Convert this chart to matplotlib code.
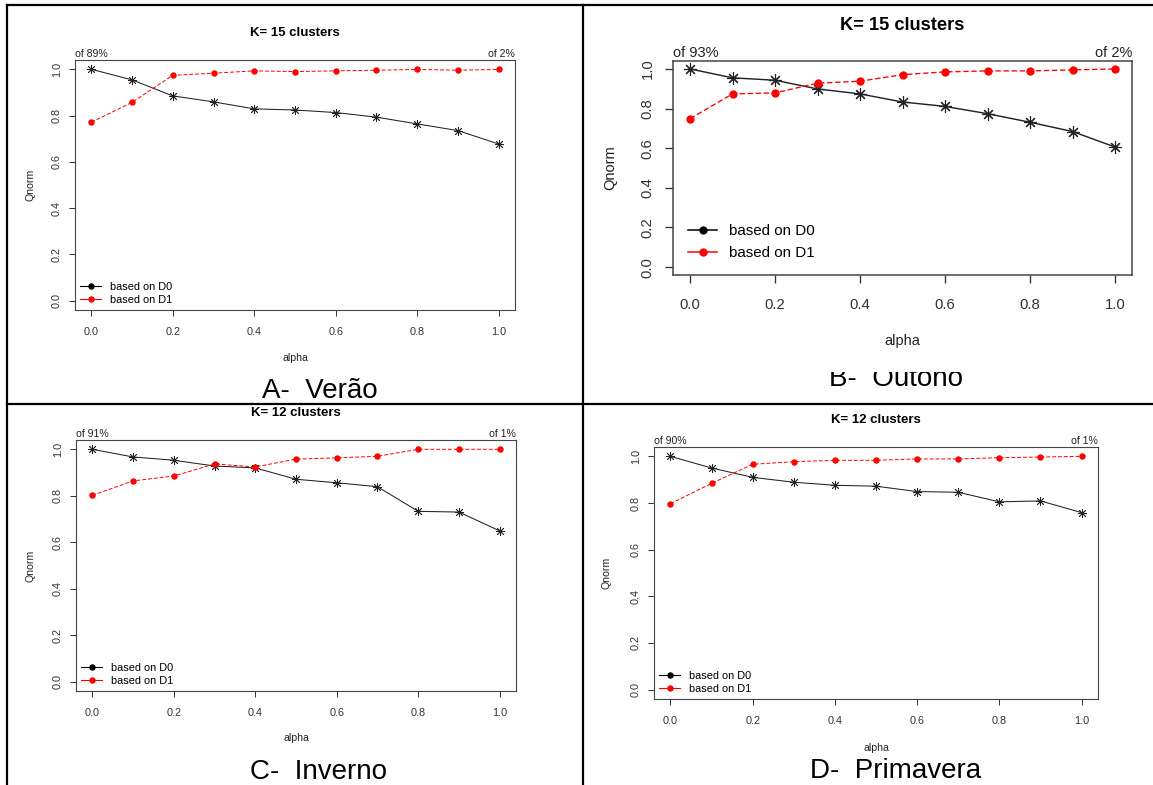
import matplotlib.pyplot as plt
from matplotlib.transforms import Bbox

plt.rcParams['font.family'] = ['Liberation Sans', 'DejaVu Sans']

W, H = 1153, 785

alpha = [0.0, 0.1, 0.2, 0.3, 0.4, 0.5, 0.6, 0.7, 0.8, 0.9, 1.0]

verao_d0 = [1.0, 0.954, 0.885, 0.859, 0.829, 0.824, 0.813, 0.793, 0.764, 0.735, 0.677]
verao_d1 = [0.771, 0.857, 0.974, 0.983, 0.993, 0.990, 0.993, 0.996, 0.999, 0.996, 0.999]
outono_d0 = [1.0, 0.955, 0.943, 0.899, 0.874, 0.833, 0.811, 0.774, 0.731, 0.684, 0.606]
outono_d1 = [0.749, 0.874, 0.879, 0.928, 0.938, 0.971, 0.985, 0.990, 0.990, 0.995, 1.0]
inverno_d0 = [1.0, 0.967, 0.953, 0.928, 0.920, 0.871, 0.856, 0.839, 0.733, 0.730, 0.649]
inverno_d1 = [0.802, 0.864, 0.885, 0.937, 0.924, 0.958, 0.963, 0.970, 1.0, 1.0, 1.0]
primavera_d0 = [1.0, 0.950, 0.910, 0.889, 0.876, 0.872, 0.849, 0.846, 0.805, 0.809, 0.759]
primavera_d1 = [0.797, 0.884, 0.966, 0.977, 0.983, 0.983, 0.989, 0.989, 0.994, 0.997, 1.0]

titles = ['K= 15 clusters', 'K= 15 clusters', 'K= 12 clusters', 'K= 12 clusters']
left_notes = ['of 89%', 'of 93%', 'of 91%', 'of 90%']
right_notes = ['of 2%', 'of 2%', 'of 1%', 'of 1%']
captions = ['A-  Verão', 'B-  Outono', 'C-  Inverno', 'D-  Primavera']
legend_labels = ['based on D0', 'based on D1']
ticks = [0.0, 0.2, 0.4, 0.6, 0.8, 1.0]

series = [(verao_d0, verao_d1), (outono_d0, outono_d1),
          (inverno_d0, inverno_d1), (primavera_d0, primavera_d1)]

# layout in pixels: plot box, title y, caption (centre x, baseline y), alpha y, Qnorm x, scale
layout = [
    dict(box=(75, 60, 515, 310), title_y=33, cap=(320, 398), alpha_y=358, qnorm_x=30, s=1.0),
    dict(box=(673, 61, 1132, 275), title_y=25, cap=(896, 386), alpha_y=341, qnorm_x=610, s=1.38),
    dict(box=(76, 440, 516, 691), title_y=413, cap=(318, 779), alpha_y=738, qnorm_x=30, s=1.0),
    dict(box=(654, 447, 1098, 699), title_y=420, cap=(896, 778), alpha_y=748, qnorm_x=607, s=1.0),
]

fig = plt.figure(figsize=(W / 100, H / 100), dpi=100)


def fx(x):
    return x / W


def fy(y):
    return 1 - y / H


# table borders
for xs, ys in [((7, W), (5, 5)), ((7, W), (404, 404)),
               ((7, 7), (5, H)), ((583, 583), (5, H))]:
    fig.add_artist(plt.Line2D([fx(v) for v in xs], [fy(v) for v in ys],
                              color='black', lw=1.6, transform=fig.transFigure))

for i, lay in enumerate(layout):
    d0, d1 = series[i]
    s = lay['s']
    x0, y0, x1, y1 = lay['box']
    ax = fig.add_axes([fx(x0), fy(y1), (x1 - x0) / W, (y1 - y0) / H])

    ax.plot(alpha, d0, color='#222222', lw=0.75 * s, marker=(8, 2, 0),
            ms=6.5 * s, mew=0.6 * s, label=legend_labels[0])
    ax.plot(alpha, d1, color='red', lw=0.7 * s, ls=(0, (4, 2)), marker='o',
            ms=3.6 * s, label=legend_labels[1])

    ax.set_xlim(-0.04, 1.04)
    ax.set_ylim(-0.04, 1.04)
    ax.set_xticks(ticks)
    ax.set_yticks(ticks)
    ax.set_xticklabels(['%.1f' % t for t in ticks])
    ax.set_yticklabels(['%.1f' % t for t in ticks])
    ax.tick_params(axis='both', labelsize=7.8 * s, colors='#333333',
                   length=4 * s, width=0.7 * s)
    ax.tick_params(axis='x', pad=8 * s)
    ax.tick_params(axis='y', labelrotation=90, pad=5.5 * s)
    plt.setp(ax.get_yticklabels(), va='center')
    for sp in ax.spines.values():
        sp.set_color('#444444')
        sp.set_linewidth(0.8 * s)

    # legend handles show dots for both series
    handles = [plt.Line2D([], [], color='black', lw=0.8 * s, marker='o', ms=3.6 * s),
               plt.Line2D([], [], color='red', lw=0.8 * s, marker='o', ms=3.6 * s)]
    ax.legend(handles, legend_labels, loc='lower left', frameon=False,
              fontsize=7.9 * s, handlelength=1.9, handletextpad=0.8,
              labelspacing=0.25 if s == 1 else 0.5, borderaxespad=0.2 if s == 1 else 0.7,
              borderpad=0.3)

    ax.text(0, 1.005, left_notes[i], transform=ax.transAxes, ha='left', va='bottom',
            fontsize=7.6 * s, color='#222222')
    ax.text(1, 1.005, right_notes[i], transform=ax.transAxes, ha='right', va='bottom',
            fontsize=7.6 * s, color='#222222')

    cx = (x0 + x1) / 2
    fig.text(fx(cx), fy(lay['title_y']), titles[i], ha='center', va='center',
             fontsize=9.5 * s, fontweight='bold')
    fig.text(fx(cx), fy(lay['alpha_y']), 'alpha', ha='center', va='center',
             fontsize=7.6 * s, color='#222222')
    fig.text(fx(lay['qnorm_x']), fy((y0 + y1) / 2), 'Qnorm', ha='center', va='center',
             rotation=90, fontsize=7.6 * s, color='#222222')

    cap = fig.text(fx(lay['cap'][0]), fy(lay['cap'][1]), captions[i],
                   ha='center', va='baseline', fontsize=20)
    if i == 1:
        # the caption of panel B is cut at the top in the source
        cap.set_clip_box(Bbox.from_extents(0, 0, W, H - 372))
        cap.set_clip_on(True)

fig.savefig('out.png', dpi=100)
